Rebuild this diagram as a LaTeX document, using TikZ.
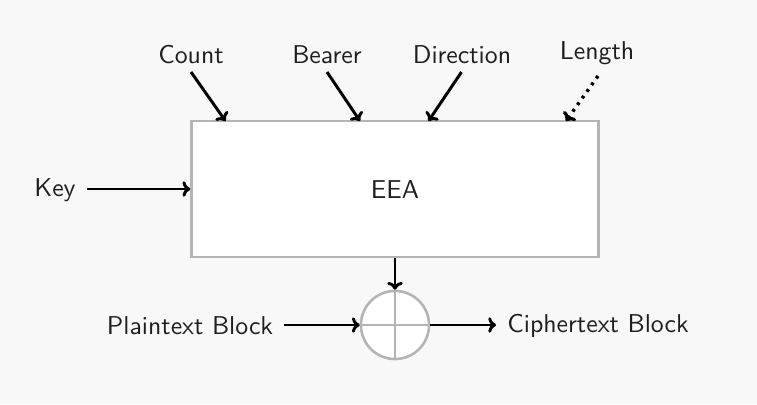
\documentclass[tikz,border=0pt]{standalone}
\usetikzlibrary{arrows.meta}
\definecolor{bg}{HTML}{F8F8F8}
\definecolor{boxgray}{HTML}{B4B4B4}
\definecolor{txt}{HTML}{1E1E1E}
\begin{document}
\begin{tikzpicture}[x=0.3876pt,y=-0.3876pt,
  lbl/.style={anchor=base,text=txt,font=\sffamily,inner sep=0pt},
  arr/.style={line width=1.15pt,-{To[length=3pt,width=6pt]}},
  blk/.style={draw=boxgray,line width=1pt,fill=white}]
\fill[bg] (0,0) rectangle (757,404);
\useasboundingbox (0,0) rectangle (757,404);
% main box
\node[blk,minimum width=157.75pt,minimum height=52.7pt,inner sep=0pt] (eea) at (395,189) {};
\node[lbl] (eeatxt) at (395,198) {EEA};
% xor
\node[blk,circle,minimum size=26.4pt,inner sep=0pt] (xor) at (395,325) {};
\draw[boxgray,line width=1pt] (xor.north) -- (xor.south) (xor.west) -- (xor.east);
% labels
\node[lbl] (count) at (191,63) {Count};
\node[lbl] (bearer) at (327,63) {Bearer};
\node[lbl] (dir) at (462,63) {Direction};
\node[lbl] (len) at (597,59) {Length};
\node[lbl] (key) at (55,196) {Key};
\node[lbl] (plain) at (190,334) {Plaintext Block};
\node[lbl] (cipher) at (598,332) {Ciphertext Block};
% connector endpoints
\coordinate (c0) at (191,72);
\coordinate (c1) at (225.5,121);
\coordinate (b0) at (327,72);
\coordinate (b1) at (360,121);
\coordinate (d0) at (461.5,72);
\coordinate (d1) at (428.5,121);
\coordinate (l0) at (598,76);
\coordinate (l1) at (566,121);
\coordinate (k0) at (87,189);
\coordinate (p0) at (284,325);
\coordinate (q1) at (496,325);
% arrows
\draw[arr] (c0) -- (c1);
\draw[arr] (b0) -- (b1);
\draw[arr] (d0) -- (d1);
\draw[arr,dotted,line width=1.3pt] (l0) -- (l1);
\draw[arr] (k0) -- (eea.west);
\draw[arr] (eea.south) -- (xor.north);
\draw[arr] (p0) -- (xor.west);
\draw[arr] (xor.east) -- (q1);
\end{tikzpicture}
\end{document}
